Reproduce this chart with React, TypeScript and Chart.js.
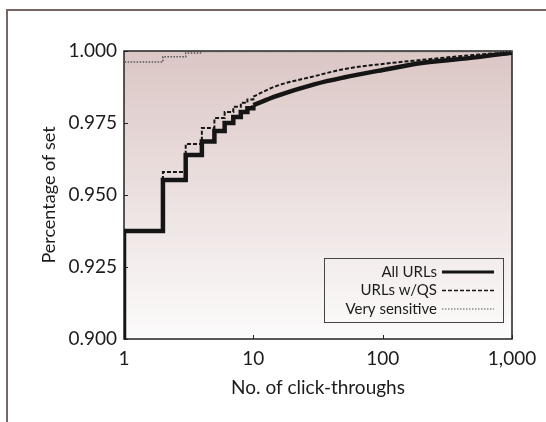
import React, { useEffect, useRef } from 'react';
import { Chart, registerables } from 'chart.js';

Chart.register(...registerables);

const FONT = 'Lato, "Open Sans", sans-serif';
const INK = '#1d1b1b';

const xTickValues = [1, 10, 100, 1000];
const yTickValues = [0.9, 0.925, 0.95, 0.975, 1.0];

const seriesLabels = ['All URLs', 'URLs w/QS', 'Very sensitive'];

// All URLs (stepped part, then smooth tail)
const allStepX = [1, 1, 2, 3, 4, 5, 6, 7, 8, 9, 10];
const allStepY = [0.9, 0.9375, 0.9552, 0.9639, 0.9686, 0.9722, 0.975, 0.9771, 0.9788, 0.9801, 0.9812];
const allTailX = [10, 15, 30, 50, 100, 200, 500, 1000];
const allTailY = [0.9812, 0.9843, 0.9885, 0.9908, 0.9934, 0.9958, 0.9977, 0.9994];

// URLs w/QS
const qsStepX = [1, 2, 3, 4, 5, 6, 7, 8, 9, 10];
const qsStepY = [0.9375, 0.958, 0.9677, 0.9733, 0.9767, 0.9788, 0.9806, 0.982, 0.9832, 0.9842];
const qsTailX = [10, 15, 30, 50, 100, 200, 500, 1000];
const qsTailY = [0.9842, 0.9878, 0.9913, 0.9937, 0.9955, 0.9969, 0.9986, 0.9996];

// Very sensitive
const vsX = [1, 1, 2, 3, 4, 1000];
const vsY = [0.986, 0.9962, 0.998, 0.9993, 0.9998, 0.9999];

const pts = (xs: number[], ys: number[]) => xs.map((x, i) => ({ x, y: ys[i] }));

const styles = [
  { color: '#151515', width: 4.5, dash: [] as number[] },
  { color: '#151515', width: 2, dash: [4, 2] },
  { color: '#555555', width: 1.5, dash: [1.5, 1.5] },
];

const framePlugin = {
  id: 'frame',
  beforeDraw(chart: any) {
    const { ctx, chartArea: a } = chart;
    const g = ctx.createLinearGradient(0, a.top, 0, a.bottom);
    g.addColorStop(0, '#dbc7c5');
    g.addColorStop(1, '#fcfbfb');
    ctx.save();
    ctx.fillStyle = g;
    ctx.fillRect(a.left, a.top, a.right - a.left, a.bottom - a.top);
    ctx.restore();
  },
  beforeDatasetsDraw(chart: any) {
    const { ctx, chartArea: a, scales } = chart;
    ctx.save();
    ctx.strokeStyle = '#222';
    ctx.lineWidth = 1.5;
    ctx.strokeRect(a.left, a.top, a.right - a.left, a.bottom - a.top);
    ctx.lineWidth = 1;
    ctx.beginPath();
    yTickValues.forEach((v) => {
      const y = Math.round(scales.y.getPixelForValue(v)) + 0.5;
      ctx.moveTo(a.left, y);
      ctx.lineTo(a.left + 4, y);
    });
    xTickValues.forEach((v) => {
      const x = Math.round(scales.x.getPixelForValue(v)) + 0.5;
      ctx.moveTo(x, a.bottom);
      ctx.lineTo(x, a.bottom - 4);
    });
    ctx.stroke();
    ctx.restore();
  },
  afterDraw(chart: any) {
    const { ctx, chartArea: a } = chart;
    const right = a.right - 9;
    const bottom = a.bottom - 17;
    const w = 179;
    const h = 64;
    ctx.save();
    ctx.strokeStyle = '#444';
    ctx.lineWidth = 1;
    ctx.strokeRect(Math.round(right - w) + 0.5, Math.round(bottom - h) + 0.5, w, h);
    ctx.font = `15px ${FONT}`;
    ctx.textAlign = 'right';
    ctx.textBaseline = 'middle';
    ctx.fillStyle = INK;
    seriesLabels.forEach((lab, i) => {
      const y = bottom - h + 14 + i * 18.5;
      ctx.fillText(lab, right - 66, y);
      const s = styles[i];
      ctx.beginPath();
      ctx.strokeStyle = s.color;
      ctx.lineWidth = i === 0 ? 3 : s.width === 2 ? 1.5 : 1;
      ctx.setLineDash(s.dash);
      ctx.moveTo(right - 61, y);
      ctx.lineTo(right - 9, y);
      ctx.stroke();
    });
    ctx.restore();
  },
};

function App() {
  const ref = useRef<HTMLCanvasElement | null>(null);

  useEffect(() => {
    if (!ref.current) return;
    const mk = (label: string, data: any[], s: any, stepped: boolean) => ({
      label,
      data,
      borderColor: s.color,
      borderWidth: s.width,
      borderDash: s.dash,
      borderCapStyle: 'butt',
      borderJoinStyle: 'miter',
      stepped: stepped ? true : false,
      cubicInterpolationMode: stepped ? 'default' : 'monotone',
      tension: stepped ? 0 : 0.4,
      pointRadius: 0,
      fill: false,
    });
    const chart = new Chart(ref.current, {
      type: 'line',
      data: {
        datasets: [
          mk(seriesLabels[2], pts(vsX, vsY), styles[2], true),
          mk(seriesLabels[1], pts(qsStepX, qsStepY), styles[1], true),
          mk(seriesLabels[1] + ' tail', pts(qsTailX, qsTailY), styles[1], false),
          mk(seriesLabels[0], pts(allStepX, allStepY), styles[0], true),
          mk(seriesLabels[0] + ' tail', pts(allTailX, allTailY), styles[0], false),
        ] as any,
      },
      options: {
        animation: false,
        responsive: false,
        parsing: true,
        layout: { padding: { left: 0, right: 34, top: 51, bottom: 0 } },
        plugins: { legend: { display: false }, tooltip: { enabled: false } },
        scales: {
          x: {
            type: 'logarithmic',
            min: 1,
            max: 1000,
            afterBuildTicks: (s: any) => {
              s.ticks = xTickValues.map((v) => ({ value: v }));
            },
            afterFit: (s: any) => {
              s.height = 83;
            },
            grid: { display: false, drawTicks: false },
            border: { display: false },
            ticks: {
              autoSkip: false,
              maxRotation: 0,
              padding: 8,
              color: INK,
              font: { family: FONT, size: 19 },
              callback: (v: any) => Number(v).toLocaleString('en-US'),
            },
            title: {
              display: true,
              text: 'No. of click-throughs',
              color: INK,
              font: { family: FONT, size: 19 },
              padding: { top: 0, bottom: 23 },
            },
          },
          y: {
            type: 'linear',
            min: 0.9,
            max: 1.0,
            afterBuildTicks: (s: any) => {
              s.ticks = yTickValues.map((v) => ({ value: v }));
            },
            afterFit: (s: any) => {
              s.width = 124;
            },
            grid: { display: false, drawTicks: false },
            border: { display: false },
            ticks: {
              padding: 7,
              color: INK,
              font: { family: FONT, size: 19 },
              callback: (v: any) => Number(v).toFixed(3),
            },
            title: {
              display: true,
              text: 'Percentage of set',
              color: INK,
              font: { family: FONT, size: 18 },
              padding: { top: 38, bottom: 0 },
            },
          },
        },
      } as any,
      plugins: [framePlugin],
    });
    return () => chart.destroy();
  }, []);

  return (
    <div
      style={{
        position: 'fixed',
        left: 0,
        top: 0,
        width: 546,
        height: 422,
        overflow: 'hidden',
        background: '#fff',
      }}
    >
      <div
        style={{
          position: 'absolute',
          left: 6,
          top: 9,
          width: 600,
          height: 500,
          borderTop: '2px solid #7a6667',
          borderLeft: '2px solid #7a6667',
        }}
      />
      <canvas
        ref={ref}
        width={546}
        height={422}
        style={{ position: 'absolute', left: 0, top: 0, width: 546, height: 422 }}
      />
    </div>
  );
}

export default App;
